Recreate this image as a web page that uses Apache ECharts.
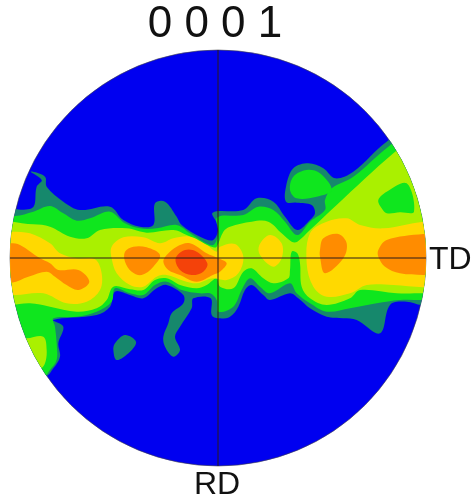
<!DOCTYPE html>
<html><head><meta charset="utf-8">
<style>html,body{margin:0;padding:0;background:#fff}#c{width:473px;height:504px}</style>
<script src="https://cdn.jsdelivr.net/npm/echarts@6/dist/echarts.min.js"></script>
</head><body><div id="c"></div>
<script>
// Pole figure "0 0 0 1": filled contour bands.
// Coordinates are projection units, with the pole-figure radius = 624.
const titleText = '0 0 0 1';
const axisLabelRight = 'TD';
const axisLabelBottom = 'RD';
const radius = 624;

const level1Main = [[-700,139],[-559,149],[-544,214],[-529,234],[-562,259],[-519,244],[-514,214],[-464,169],[-414,144],[-324,154],[-284,114],[-234,94],[-194,99],[-189,164],[-159,169],[-124,124],[-109,99],[-54,64],[-14,54],[1,94],[-16,136],[76,144],[116,179],[166,169],[201,124],[238,84],[276,114],[291,134],[281,159],[236,166],[204,169],[204,214],[226,269],[271,284],[316,269],[351,239],[406,259],[506,349],[560,370],[700,300],[700,-141],[611,-141],[566,-131],[516,-141],[486,-226],[416,-186],[376,-181],[326,-176],[276,-151],[241,-121],[216,-106],[156,-126],[136,-111],[101,-81],[81,-96],[61,-146],[36,-176],[1,-181],[-19,-171],[-22,-121],[-74,-121],[-79,-151],[-114,-206],[-129,-236],[-114,-276],[-134,-296],[-159,-266],[-164,-236],[-149,-196],[-139,-166],[-104,-136],[-104,-111],[-154,-81],[-184,-91],[-224,-121],[-264,-111],[-309,-101],[-324,-146],[-364,-171],[-494,-186],[-464,-206],[-479,-256],[-474,-296],[-494,-331],[-519,-356],[-700,-356]];
const level1Island = [[-309,-256],[-279,-231],[-246,-251],[-264,-281],[-304,-306],[-314,-276]];

const level2Main = [[-700,126],[-609,126],[-554,139],[-504,156],[-464,134],[-424,112],[-384,119],[-324,139],[-279,104],[-234,89],[-184,89],[-124,99],[-84,74],[-44,49],[-14,39],[1,74],[-2,122],[76,129],[121,154],[166,144],[201,109],[238,69],[276,109],[321,144],[321,174],[341,209],[406,244],[511,334],[560,360],[700,300],[700,-126],[611,-126],[546,-126],[476,-136],[396,-151],[326,-161],[276,-136],[236,-106],[216,-76],[156,-106],[126,-86],[96,-61],[71,-96],[46,-146],[1,-161],[-4,-126],[-24,-106],[-54,-106],[-109,-96],[-154,-71],[-189,-81],[-224,-111],[-264,-106],[-309,-91],[-319,-131],[-364,-161],[-424,-176],[-494,-181],[-489,-206],[-484,-256],[-484,-306],[-504,-336],[-529,-361],[-700,-361]];
const level2Island = [[216,204],[226,244],[266,264],[306,254],[341,204],[296,184],[236,179]];

const level3Main = [[-700,99],[-554,101],[-504,94],[-444,64],[-394,59],[-354,84],[-274,89],[-214,76],[-134,84],[-94,69],[-54,49],[-14,32],[-4,34],[16,79],[36,94],[101,109],[151,109],[191,74],[221,49],[238,49],[276,84],[356,159],[526,314],[570,340],[700,300],[700,-106],[616,-106],[536,-106],[426,-96],[396,-121],[326,-141],[276,-121],[251,-86],[246,-16],[238,14],[221,19],[216,-36],[211,-61],[166,-76],[136,-61],[101,-31],[76,-41],[46,-91],[6,-86],[-4,-61],[-34,-81],[-64,-91],[-114,-81],[-154,-61],[-189,-66],[-224,-96],[-264,-94],[-314,-86],[-334,-126],[-364,-151],[-424,-161],[-504,-146],[-564,-136],[-700,-136]];
const level3Spot = [[-574,-241],[-524,-236],[-514,-276],[-519,-316],[-532,-330],[-640,-300],[-640,-241]];
const level2Pocket = [[481,174],[506,199],[566,224],[588,139],[546,137],[506,134],[491,149]];

const level4Left = [[-700,79],[-619,79],[-564,74],[-504,44],[-474,14],[-424,-1],[-369,-4],[-349,-46],[-354,-96],[-394,-131],[-454,-136],[-524,-106],[-609,-111],[-700,-111]];
const level4Middle = [[-319,34],[-284,62],[-224,62],[-174,44],[-134,59],[-84,64],[-34,39],[-4,19],[6,34],[51,42],[76,4],[61,-46],[26,-66],[-14,-61],[-34,-66],[-64,-76],[-104,-68],[-154,-51],[-184,-56],[-224,-86],[-264,-81],[-304,-46],[-319,-1]];
const level4Island = [[156,69],[191,44],[191,-1],[166,-26],[126,9],[124,39]];
const level4Right = [[276,74],[326,109],[386,119],[426,99],[496,89],[616,109],[700,109],[700,-88],[616,-88],[526,-81],[446,-81],[396,-106],[326,-116],[286,-86],[266,-16]];

const level5Left = [[-700,44],[-622,44],[-594,39],[-534,-1],[-504,-16],[-479,-36],[-419,-36],[-386,-71],[-419,-96],[-454,-81],[-489,-56],[-514,-41],[-569,-56],[-619,-74],[-700,-74]];
const level5Middle = [[-279,19],[-254,34],[-214,32],[-174,9],[-194,-26],[-229,-51],[-259,-41],[-279,-11]];
const level5Center = [[-164,-11],[-154,9],[-124,34],[-84,44],[-34,14],[1,-1],[26,-16],[6,-41],[-14,-50],[-64,-71],[-114,-51],[-149,-36]];
const level5Right = [[306,24],[316,59],[361,72],[386,44],[376,-1],[321,-46],[306,4]];
const level5Edge = [[481,24],[506,54],[616,72],[700,72],[700,-51],[616,-51],[546,-46],[501,-26],[481,4]];

const level6Peak = [[-127,-1],[-99,24],[-64,19],[-32,-16],[-44,-41],[-79,-51],[-114,-36]];

const bands = [
  {name:'level 1', color:'#16886c', polygons:[level1Main, level1Island]},
  {name:'level 2', color:'#0fe61e', polygons:[level2Main, level2Island]},
  {name:'level 3', color:'#aaf000', polygons:[level3Main, level3Spot]},
  {name:'level 2 pocket', color:'#0fe61e', polygons:[level2Pocket]},
  {name:'level 4', color:'#ffd900', polygons:[level4Left, level4Middle, level4Island, level4Right]},
  {name:'level 5', color:'#ff8c00', polygons:[level5Left, level5Middle, level5Center, level5Right, level5Edge]},
  {name:'level 6', color:'#f4420a', polygons:[level6Peak]}
];

const chart = echarts.init(document.getElementById('c'), null, {renderer:'canvas'});

function discClip(api) {
  const c = api.coord([0, 0]);
  const r = api.size([radius, 0])[0];
  return {type:'circle', shape:{cx:c[0], cy:c[1], r:r}};
}

const bandSeries = bands.map(function (band) {
  return {
    type:'custom', name:band.name, coordinateSystem:'cartesian2d', silent:true, animation:false,
    data:band.polygons.map(function (p, i) { return [i]; }),
    encode:{x:0, y:0},
    renderItem:function (params, api) {
      const poly = band.polygons[api.value(0)];
      return {
        type:'polygon',
        shape:{points:poly.map(function (p) { return api.coord(p); }), smooth:0.35},
        clipPath:discClip(api),
        style:{fill:band.color, stroke:null}
      };
    }
  };
});

const disc = {
  type:'custom', name:'disc', coordinateSystem:'cartesian2d', silent:true, animation:false,
  data:[[0, 0]],
  renderItem:function (params, api) {
    const c = api.coord([api.value(0), api.value(1)]);
    const r = api.size([radius, 0])[0];
    return {type:'circle', shape:{cx:c[0], cy:c[1], r:r}, style:{fill:'#0000f0', stroke:'#444', lineWidth:0.6}};
  }
};

function crossLine(name, pts) {
  return {type:'line', name:name, data:pts, symbol:'none', silent:true, animation:false, z:5,
    lineStyle:{color:'#2a1a18', width:1}};
}

chart.setOption({
  animation:false,
  backgroundColor:'#ffffff',
  grid:{left:10, right:47, top:50, bottom:38},
  xAxis:{type:'value', min:-radius, max:radius, show:false},
  yAxis:{type:'value', min:-radius, max:radius, show:false},
  title:[
    {text:titleText, left:215, top:3, padding:0, textAlign:'center', textStyle:{fontFamily:'Liberation Sans', fontSize:44, fontWeight:'normal', color:'#111'}},
    {text:axisLabelRight, left:429, top:244, padding:0, textStyle:{fontFamily:'Liberation Sans', fontSize:32, fontWeight:'normal', color:'#111'}},
    {text:axisLabelBottom, left:217, top:469, padding:0, textAlign:'center', textStyle:{fontFamily:'Liberation Sans', fontSize:32, fontWeight:'normal', color:'#111'}}
  ],
  series:[disc].concat(bandSeries, [
    crossLine('TD axis', [[-radius,0],[radius,0]]),
    crossLine('RD axis', [[0,-radius],[0,radius]])
  ])
});
</script></body></html>
